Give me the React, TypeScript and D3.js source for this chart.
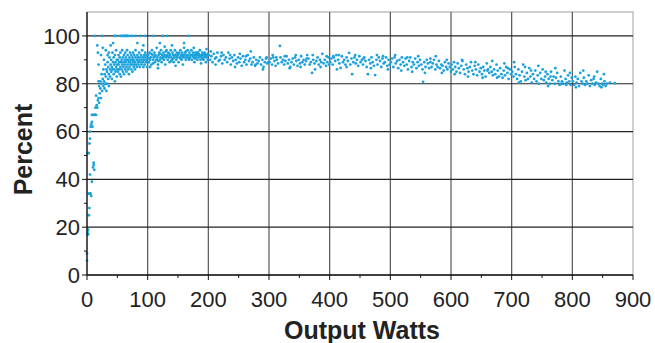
import React from "react";
import * as d3 from "d3";

// efficiency readings, [output watts, percent]
const rampPoints: [number, number][] = [
  [0, 6], [0, 9], [1, 17], [1, 18], [2, 17], [2, 19], [3, 25], [4, 28], [3, 34], [4, 34], [5, 34], [6, 34], [7, 33],
  [5, 42], [8, 39], [10, 45], [11, 47], [12, 44], [11, 46], [1, 51], [2, 51], [3, 51], [4, 55], [5, 57], [6, 62],
  [5, 60], [7, 63], [8, 64], [9, 62], [8, 67], [10, 67], [12, 67], [13, 67], [15, 67], [14, 70], [16, 71], [17, 70],
  [18, 73], [19, 74], [15, 75], [20, 72], [13, 100], [17, 96], [18, 93], [19, 88], [20, 79], [19, 81],
];

const lowLoadPoints: [number, number][] = [
  [21, 76], [22, 78], [23, 74], [22, 81], [24, 80], [25, 77], [24, 84], [26, 82], [27, 79], [27, 86], [28, 81],
  [29, 78], [29, 84], [30, 88], [30, 80], [31, 83], [32, 77], [32, 86], [33, 85], [33, 80], [34, 89], [35, 82],
  [35, 87], [36, 84], [36, 79], [37, 91], [38, 86], [38, 83], [39, 88], [40, 85], [40, 90], [41, 82], [41, 87],
  [42, 93], [42, 86], [43, 89], [44, 84], [44, 91], [45, 88], [45, 86], [46, 81], [46, 92], [47, 89], [47, 85],
  [48, 87], [48, 94], [49, 90], [49, 83], [50, 88], [50, 86], [23, 92], [26, 95], [28, 90], [31, 94], [34, 92],
  [39, 96], [43, 97], [36, 93], [25, 100], [45, 100], [48, 100],
  [51, 90], [51, 85], [52, 88], [52, 92], [53, 86], [53, 89], [54, 84], [54, 91], [55, 87], [55, 93], [56, 89],
  [56, 83], [57, 90], [57, 86], [58, 88], [58, 94], [59, 85], [59, 91], [60, 89], [60, 87], [61, 92], [61, 84],
  [62, 90], [62, 88], [63, 86], [63, 93], [64, 89], [64, 91], [65, 87], [65, 85], [66, 90], [66, 94], [67, 88],
  [67, 92], [68, 86], [68, 90], [69, 89], [69, 84], [70, 91], [70, 87], [71, 93], [71, 89], [72, 88], [72, 90],
  [73, 86], [73, 92], [74, 90], [74, 88], [75, 91], [75, 85], [76, 89], [76, 93], [77, 87], [77, 90], [78, 92],
  [78, 88], [79, 89], [79, 86], [80, 91], [80, 94], [81, 88], [82, 90], [82, 87], [83, 92], [84, 89], [84, 91],
  [85, 88], [86, 93], [86, 90], [87, 87], [88, 91], [88, 89], [89, 92], [90, 90], [90, 88], [91, 94], [92, 89],
  [92, 91], [93, 87], [94, 92], [94, 90], [95, 88], [96, 91], [96, 93], [97, 89], [98, 92], [98, 90], [99, 87],
  [100, 91], [100, 89], [55, 100], [58, 100], [60, 100], [62, 100], [64, 100], [66, 100], [67, 100], [70, 100],
  [74, 100], [80, 100], [88, 100], [96, 100], [83, 97], [93, 96],
];

const peakPoints: [number, number][] = [
  [101, 92], [102, 89], [103, 93], [104, 90], [105, 91], [106, 88], [107, 94], [108, 92], [109, 90], [110, 91],
  [111, 93], [112, 89], [113, 92], [114, 90], [115, 95], [116, 91], [117, 88], [118, 92], [119, 93], [120, 90],
  [121, 91], [122, 94], [123, 89], [124, 92], [125, 91], [126, 93], [127, 90], [128, 92], [129, 88], [130, 91],
  [131, 94], [132, 92], [133, 90], [134, 93], [135, 91], [136, 89], [137, 92], [138, 94], [139, 91], [140, 90],
  [141, 93], [142, 92], [143, 89], [144, 91], [145, 94], [146, 92], [147, 90], [148, 93], [149, 91], [150, 92],
  [151, 89], [152, 93], [153, 91], [154, 94], [155, 92], [156, 90], [157, 93], [158, 91], [159, 92], [160, 95],
  [161, 91], [162, 93], [163, 90], [164, 92], [165, 91], [166, 94], [167, 92], [168, 90], [169, 93], [170, 91],
  [171, 92], [172, 94], [173, 90], [174, 92], [175, 93], [176, 91], [177, 89], [178, 92], [179, 93], [180, 91],
  [181, 92], [182, 90], [183, 93], [184, 91], [185, 92], [186, 94], [187, 90], [188, 92], [189, 91], [190, 93],
  [191, 92], [192, 90], [193, 91], [194, 93], [195, 92], [196, 89], [197, 91], [198, 92], [199, 90],
  [103, 90.5], [106, 92.5], [109, 88.5], [112, 91.5], [115, 90], [118, 89.5], [121, 92.5], [124, 90.5],
  [127, 91.5], [130, 93.5], [133, 91.5], [136, 92.5], [139, 89.5], [142, 90.5], [145, 92], [148, 91],
  [151, 92.5], [154, 90.5], [157, 91.5], [160, 92], [163, 93.5], [166, 91], [169, 90.5], [172, 92], [175, 91.5],
  [178, 90.5], [181, 93], [184, 92.5], [187, 91.5], [190, 90.5], [193, 92.5], [196, 91.5], [199, 92.5],
  [109, 100], [125, 100], [132, 100], [168, 100], [160, 97], [140, 96], [120, 97],
  [104, 87], [117, 86.5], [128, 95.5], [146, 87.5], [158, 88], [176, 95], [188, 88.5], [197, 94.5],
];

const midLoadPoints: [number, number][] = [
  [201, 92], [203, 90], [205, 91.5], [207, 89], [209, 92.5], [211, 90.5], [213, 91], [215, 93], [217, 89.5],
  [219, 90], [221, 91.5], [223, 88.5], [225, 92], [227, 90], [229, 91], [231, 89], [233, 93], [235, 90.5],
  [237, 88], [239, 91], [241, 89.5], [243, 92], [245, 90], [247, 88.5], [249, 91], [251, 89], [253, 90.5],
  [255, 87.5], [257, 91.5], [259, 89], [261, 90], [263, 88], [265, 92], [267, 89.5], [269, 90.5], [271, 88],
  [273, 89], [275, 91], [277, 87.5], [279, 90], [281, 88.5], [283, 89.5], [285, 91], [287, 88], [289, 90],
  [291, 87], [293, 89], [295, 90.5], [297, 88.5], [299, 89], [204, 93.5], [212, 88], [222, 93], [236, 92],
  [244, 87], [252, 92.5], [262, 91.5], [270, 93.5], [278, 88], [290, 86], [296, 91],
  [301, 89], [303, 90.5], [305, 88], [307, 91], [309, 89.5], [311, 87.5], [313, 90], [315, 88.5], [318, 95.8],
  [319, 91], [321, 89], [323, 90], [325, 88], [327, 89.5], [329, 91.5], [331, 88.5], [333, 90], [335, 87],
  [337, 89], [339, 90.5], [341, 88], [343, 91], [345, 89.5], [347, 87.5], [349, 90], [351, 88.5], [353, 91.5],
  [355, 89], [357, 90], [359, 88], [361, 89.5], [363, 92], [365, 90.5], [367, 88], [369, 89], [371, 84.5],
  [373, 90], [375, 88.5], [376, 86], [378, 89.5], [380, 91], [382, 88], [384, 90], [386, 89], [388, 92.5],
  [390, 88.5], [392, 90], [394, 87.5], [396, 89], [398, 91], [399, 88], [306, 92], [312, 91], [326, 91.5],
  [334, 86.5], [344, 92], [352, 87], [362, 90.5], [372, 92], [385, 87], [395, 91.5],
  [401, 89], [403, 90.5], [405, 88], [407, 91], [409, 89.5], [411, 92], [412, 86], [414, 90], [416, 88.5],
  [418, 86.6], [420, 91.5], [422, 89], [424, 90], [426, 88], [428, 91], [430, 89.5], [432, 92.9], [434, 88],
  [436, 90.5], [437, 84], [439, 89], [441, 91], [443, 88.5], [445, 90], [447, 87.5], [449, 91.5], [451, 89],
  [453, 90], [455, 88], [457, 91], [459, 89.5], [461, 87], [463, 84], [465, 90], [467, 88.5], [469, 91],
  [471, 89], [473, 87.5], [475, 83.6], [477, 90], [479, 88], [481, 91], [483, 89.5], [485, 87], [487, 90.5],
  [489, 88.5], [491, 89], [493, 91], [495, 87.5], [497, 90], [499, 88], [406, 91.5], [415, 92], [428, 87],
  [442, 92], [456, 90.5], [468, 86.5], [478, 92], [488, 91.5], [496, 86],
];

const highLoadPoints: [number, number][] = [
  [501, 89], [503, 90.5], [505, 87], [507, 91], [509, 88.5], [511, 89.5], [513, 86.5], [515, 90], [517, 88],
  [519, 91], [521, 89], [523, 87.5], [525, 90.5], [527, 88], [529, 86], [531, 89.5], [533, 91], [535, 87],
  [537, 89], [539, 88], [541, 90.5], [543, 86.5], [545, 89], [547, 87.5], [549, 90], [551, 88], [553, 86],
  [554, 80.8], [556, 89], [558, 87], [560, 90], [562, 88.5], [564, 86.5], [566, 89], [568, 87], [570, 88.5],
  [572, 90], [574, 86], [576, 88], [578, 87], [580, 89.5], [582, 86.5], [584, 88], [586, 87.5], [588, 85.5],
  [590, 89], [592, 87], [594, 86], [596, 88.5], [598, 87], [600, 85], [508, 92], [518, 85.5], [528, 91],
  [536, 85], [546, 91.5], [557, 84.5], [566, 90.5], [575, 91.5], [585, 84.5], [593, 90],
  [601, 88], [603, 86], [605, 89], [607, 87], [609, 85], [611, 88.5], [613, 86.5], [615, 84.5], [617, 87.5],
  [619, 89.5], [621, 86], [623, 84], [625, 88], [627, 86.5], [629, 85], [631, 87], [633, 89], [635, 85.5],
  [637, 84], [639, 87.5], [641, 86], [643, 83.5], [645, 88], [647, 85], [649, 86.5], [651, 84], [653, 87],
  [655, 85.5], [657, 83], [659, 88.5], [661, 86], [663, 84.5], [665, 87], [667, 85], [669, 83.5], [671, 86],
  [673, 84], [675, 88], [677, 85.5], [679, 83], [681, 86.5], [683, 84], [685, 82.5], [687, 85.5], [689, 83.5],
  [691, 87], [693, 84.5], [695, 82], [697, 86], [699, 84], [606, 84], [618, 90], [628, 83], [640, 89],
  [652, 82.5], [660, 85.5], [668, 89.5], [676, 82.5], [688, 88.5], [694, 86.5],
];

const fullLoadPoints: [number, number][] = [
  [701, 85], [703, 83], [705, 87], [707, 84], [709, 82], [711, 86], [713, 83.5], [715, 81], [717, 85], [719, 88],
  [721, 83], [723, 81.5], [725, 84.5], [727, 82], [729, 86.5], [731, 83], [733, 80.5], [735, 84], [737, 82],
  [739, 85.5], [741, 81], [743, 83.5], [745, 80], [747, 84.5], [749, 82], [751, 86], [753, 81.5], [755, 83],
  [757, 80.5], [759, 84], [761, 82], [763, 80], [765, 85], [767, 81.5], [769, 83], [771, 80], [773, 82.5],
  [775, 84.5], [777, 81], [779, 79.5], [781, 83], [783, 81], [785, 80], [787, 85.5], [789, 82], [791, 80.5],
  [793, 83.5], [795, 81], [797, 79.5], [799, 82.5], [704, 89], [712, 80.5], [722, 87], [732, 85.5], [744, 87.5],
  [756, 85], [764, 83], [772, 86.5], [782, 80], [790, 79.5], [796, 84.5], [760, 79],
  [801, 81], [803, 79.5], [805, 83], [807, 80.5], [809, 82], [811, 79], [813, 84.5], [815, 81], [817, 80],
  [819, 82.5], [821, 79.5], [823, 81], [825, 80], [827, 83.5], [829, 79], [831, 81.5], [833, 80], [835, 82],
  [837, 79.5], [839, 80.5], [841, 85], [843, 80], [845, 79], [847, 82], [849, 80], [851, 79.5], [853, 81],
  [855, 79], [857, 80], [862, 80.5], [870, 80.2], [806, 78.5], [818, 85.5], [836, 83], [848, 78.5], [852, 84],
];

const xTicks = [0, 100, 200, 300, 400, 500, 600, 700, 800, 900];
const xMinorTicks = [50, 150, 250, 350, 450, 550, 650, 750, 850];
const yTicks = [0, 20, 40, 60, 80, 100];
const yMinorTicks = [10, 30, 50, 70, 90];

const allPoints = [...rampPoints, ...lowLoadPoints, ...peakPoints, ...midLoadPoints, ...highLoadPoints, ...fullLoadPoints];

export default function App() {
  const width = 655;
  const height = 343;
  const margin = { top: 12, right: 22, bottom: 68, left: 87 };

  const x = d3.scaleLinear().domain([0, 900]).range([margin.left, width - margin.right]);
  const y = d3.scaleLinear().domain([0, 110]).range([height - margin.bottom, margin.top]);
  const font = "'Liberation Sans', Arial, sans-serif";

  return (
    <svg width={width} height={height} style={{ position: "absolute", left: 0, top: 0, background: "#fff" }}>
      {/* plot border */}
      <rect x={x(0)} y={y(110)} width={x(900) - x(0)} height={y(0) - y(110)} fill="none" stroke="#a0a0a0" />
      {/* grid */}
      {xTicks.slice(1, -1).map((t) => (
        <line key={"gx" + t} x1={x(t)} x2={x(t)} y1={y(110)} y2={y(0)} stroke="#555" strokeWidth={1.2} />
      ))}
      {yTicks.slice(1).map((t) => (
        <line key={"gy" + t} x1={x(0)} x2={x(900)} y1={y(t)} y2={y(t)} stroke="#222" strokeWidth={1.2} />
      ))}
      {/* points */}
      {allPoints.map(([w, p], i) => (
        <circle key={i} cx={x(w)} cy={y(p)} r={1.4} fill="#1ba1dc" />
      ))}
      {/* axes */}
      <line x1={x(0)} x2={x(0)} y1={y(110)} y2={y(0)} stroke="#111" strokeWidth={1.3} />
      <line x1={x(0)} x2={x(900)} y1={y(0)} y2={y(0)} stroke="#111" strokeWidth={1.5} />
      {yTicks.map((t) => (
        <line key={"ty" + t} x1={x(0) - 5} x2={x(0)} y1={y(t)} y2={y(t)} stroke="#111" />
      ))}
      {yMinorTicks.map((t) => (
        <line key={"my" + t} x1={x(0) - 3} x2={x(0)} y1={y(t)} y2={y(t)} stroke="#111" />
      ))}
      {xTicks.map((t) => (
        <line key={"tx" + t} x1={x(t)} x2={x(t)} y1={y(0)} y2={y(0) + 5} stroke="#111" />
      ))}
      {xMinorTicks.map((t) => (
        <line key={"mx" + t} x1={x(t)} x2={x(t)} y1={y(0)} y2={y(0) + 3} stroke="#111" />
      ))}
      {/* tick labels */}
      {yTicks.map((t) => (
        <text key={"ly" + t} x={x(0) - 7} y={y(t)} dy="0.36em" textAnchor="end" fontFamily={font} fontSize={22} fill="#222">
          {t}
        </text>
      ))}
      {xTicks.map((t) => (
        <text key={"lx" + t} x={x(t)} y={307} textAnchor="middle" fontFamily={font} fontSize={22} fill="#222">
          {t}
        </text>
      ))}
      {/* axis titles */}
      <text x={(x(0) + x(900)) / 2 + 2} y={339} textAnchor="middle" fontFamily={font} fontSize={25} fontWeight="bold" fill="#222">
        Output Watts
      </text>
      <text
        transform={`translate(32,${(y(0) + y(110)) / 2 + 6}) rotate(-90)`}
        textAnchor="middle"
        fontFamily={font}
        fontSize={25}
        fontWeight="bold"
        fill="#222"
      >
        Percent
      </text>
    </svg>
  );
}
